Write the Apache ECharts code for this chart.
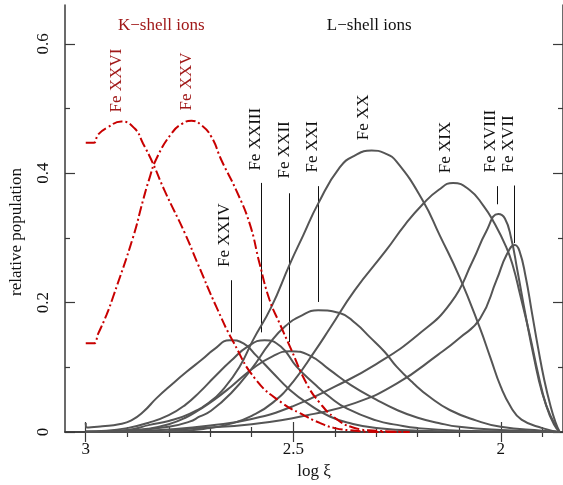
<!DOCTYPE html>
<html><head><meta charset="utf-8">
<script src="https://cdn.jsdelivr.net/npm/echarts@6/dist/echarts.min.js"></script>
<style>html,body{margin:0;padding:0;background:#fff}#c{width:563px;height:485px}</style>
</head><body><div id="c"></div>
<script>
// ---- data (log xi, relative population) ----
const feXXVI = [[3.0,0.447],[2.981,0.447],[2.97,0.46],[2.947,0.471],[2.914,0.480],[2.882,0.469],[2.862,0.446],[2.838,0.415],[2.81,0.373],[2.761,0.307],[2.73,0.26],[2.685,0.193],[2.645,0.14],[2.589,0.080],[2.525,0.044],[2.484,0.029],[2.436,0.014],[2.40,0.006],[2.35,0.002],[2.3,0.0],[2.22,0.0]];
const feXXV = [[3.0,0.137],[2.981,0.137],[2.97,0.152],[2.95,0.181],[2.934,0.209],[2.886,0.301],[2.862,0.358],[2.848,0.389],[2.83,0.422],[2.794,0.461],[2.769,0.476],[2.745,0.481],[2.721,0.474],[2.697,0.456],[2.673,0.420],[2.637,0.373],[2.605,0.322],[2.581,0.260],[2.557,0.204],[2.533,0.168],[2.508,0.132],[2.468,0.075],[2.436,0.045],[2.40,0.022],[2.356,0.007],[2.3,0.002],[2.22,0.0]];
const feXXIV = [[3.0,0.014],[2.997,0.007],[2.96,0.009],[2.92,0.012],[2.89,0.018],[2.86,0.032],[2.83,0.052],[2.79,0.075],[2.757,0.093],[2.72,0.112],[2.69,0.128],[2.653,0.142],[2.62,0.137],[2.589,0.118],[2.55,0.092],[2.508,0.065],[2.46,0.042],[2.412,0.024],[2.36,0.013],[2.3,0.006],[2.2,0.002],[2.0,0.0005],[1.858,0]];
const feXXIII = [[3.0,0.001],[2.95,0.002],[2.9,0.006],[2.85,0.014],[2.8,0.026],[2.76,0.042],[2.725,0.062],[2.69,0.085],[2.65,0.11],[2.61,0.132],[2.569,0.142],[2.53,0.132],[2.492,0.101],[2.45,0.075],[2.412,0.054],[2.37,0.036],[2.3,0.018],[2.25,0.011],[2.2,0.006],[2.1,0.002],[2.0,0.001],[1.858,0]];
const feXXII = [[3.0,0],[2.9,0.002],[2.85,0.005],[2.8,0.012],[2.76,0.022],[2.725,0.035],[2.69,0.05],[2.65,0.07],[2.6,0.097],[2.55,0.117],[2.508,0.125],[2.46,0.118],[2.412,0.096],[2.36,0.072],[2.3,0.05],[2.25,0.034],[2.2,0.022],[2.15,0.014],[2.1,0.008],[2.0,0.003],[1.9,0.001],[1.858,0]];
const feXXI = [[3.0,0],[2.9,0.002],[2.8,0.008],[2.75,0.016],[2.725,0.024],[2.7,0.032],[2.65,0.06],[2.6,0.098],[2.557,0.137],[2.52,0.163],[2.48,0.18],[2.44,0.188],[2.388,0.184],[2.35,0.168],[2.316,0.147],[2.28,0.124],[2.251,0.101],[2.21,0.075],[2.171,0.054],[2.123,0.034],[2.06,0.018],[2.0,0.008],[1.9,0.002],[1.858,0]];
const feXX = [[3.0,0],[2.9,0.003],[2.846,0.011],[2.8,0.017],[2.75,0.028],[2.7,0.047],[2.67,0.065],[2.63,0.1],[2.597,0.142],[2.553,0.193],[2.508,0.26],[2.476,0.304],[2.44,0.353],[2.388,0.409],[2.35,0.428],[2.311,0.435],[2.28,0.431],[2.251,0.418],[2.188,0.358],[2.147,0.304],[2.099,0.239],[2.051,0.162],[2.025,0.115],[2.0,0.07],[1.975,0.038],[1.95,0.019],[1.9,0.006],[1.858,0]];
const feXIX = [[3.0,0],[2.8,0.001],[2.7,0.006],[2.65,0.013],[2.6,0.025],[2.55,0.045],[2.5,0.078],[2.448,0.125],[2.412,0.16],[2.352,0.219],[2.276,0.281],[2.23,0.321],[2.188,0.352],[2.15,0.374],[2.115,0.385],[2.075,0.374],[2.042,0.35],[2.019,0.327],[1.987,0.286],[1.97,0.255],[1.954,0.214],[1.93,0.15],[1.91,0.09],[1.89,0.04],[1.872,0.012],[1.858,0]];
const feXVIII = [[2.9,0.001],[2.8,0.004],[2.7,0.01],[2.6,0.02],[2.5,0.04],[2.4,0.07],[2.3,0.105],[2.2,0.15],[2.12,0.2],[2.067,0.265],[2.035,0.31],[2.006,0.337],[1.99,0.33],[1.975,0.3],[1.96,0.25],[1.94,0.18],[1.92,0.115],[1.9,0.06],[1.88,0.025],[1.858,0]];
const feXVII = [[2.8,0.001],[2.75,0.005],[2.6,0.012],[2.45,0.028],[2.35,0.045],[2.25,0.075],[2.15,0.12],[2.1,0.145],[2.05,0.175],[2.01,0.235],[1.985,0.275],[1.966,0.289],[1.955,0.28],[1.94,0.24],[1.925,0.185],[1.91,0.13],[1.895,0.08],[1.88,0.04],[1.868,0.015],[1.858,0]];

const xMajorTicks = [3, 2.5, 2];
const xMinorTicks = [2.9, 2.8, 2.7, 2.6, 2.4, 2.3, 2.2, 2.1, 1.9];
const yMajorTicks = [0, 0.2, 0.4, 0.6];
const yMinorTicks = [0.1, 0.3, 0.5];

const ionNames = ['Fe XXVI','Fe XXV','Fe XXIV','Fe XXIII','Fe XXII','Fe XXI','Fe XX','Fe XIX','Fe XVIII','Fe XVII'];
const kShellTitle = 'K\u2212shell ions';
const lShellTitle = 'L\u2212shell ions';

// ---- annotation layout (data coordinates) ----
const labelAt = [
  {L:2.9265, v:0.494}, {L:2.7578, v:0.497}, {L:2.665, v:0.255}, {L:2.590, v:0.404},
  {L:2.520, v:0.392}, {L:2.454, v:0.401}, {L:2.330, v:0.451}, {L:2.133, v:0.400},
  {L:2.024, v:0.401}, {L:1.982, v:0.401}
];
const leaders = [
  null, null, {L:2.651, v1:0.2346, v2:0.154}, {L:2.577, v1:0.385, v2:0.154},
  {L:2.510, v1:0.369, v2:0.139}, {L:2.440, v1:0.380, v2:0.201}, null, null,
  {L:2.009, v1:0.380, v2:0.352}, {L:1.968, v1:0.381, v2:0.292}
];

const FONT = '"Liberation Serif", "DejaVu Serif", serif';
const GRAY = '#555555';
const RED = '#c80000';
const DARKRED = '#a01818';
const AXC = '#3a3a3a';

const chart = echarts.init(document.getElementById('c'), null, {renderer:'canvas'});

function xAx(pos, vals, len, showLine, showLabel) {
  return {
    type:'value', min:1.85, max:3.05, inverse:true, position:pos,
    axisLine:{show:showLine, lineStyle:{color:AXC, width:1.5}},
    axisTick:{show:true, inside:true, length:len, customValues:vals, lineStyle:{color:AXC, width:1.2}},
    axisLabel:{show:showLabel, customValues:vals, margin:9, fontSize:17, fontFamily:FONT, color:'#111'},
    splitLine:{show:false}
  };
}
function yAx(pos, vals, len, showLine, showLabel) {
  return {
    type:'value', min:0, max:0.66, position:pos,
    axisLine:{show:showLine, lineStyle:{color:AXC, width:1.5}},
    axisTick:{show:true, inside:true, length:len, customValues:vals, lineStyle:{color:AXC, width:1.2}},
    axisLabel:{show:showLabel, customValues:vals, rotate:90, margin:13, fontSize:17, fontFamily:FONT, color:'#111'},
    splitLine:{show:false}
  };
}

const xAxes = [xAx('bottom', xMajorTicks, 10, true, true), xAx('bottom', xMinorTicks, 5, false, false),
               xAx('top', xMajorTicks, 10, true, false), xAx('top', xMinorTicks, 5, false, false)];
xAxes[0].name = 'log \u03be';
xAxes[0].nameLocation = 'middle';
xAxes[0].nameGap = 30;
xAxes[0].nameTextStyle = {fontSize:17, fontFamily:FONT, color:'#111'};
const yAxes = [yAx('left', yMajorTicks, 10, true, true), yAx('left', yMinorTicks, 5, false, false),
               yAx('right', yMajorTicks, 10, true, false), yAx('right', yMinorTicks, 5, false, false)];

function line(name, data, color, dashed) {
  return {
    name, type:'line', data, xAxisIndex:0, yAxisIndex:0, showSymbol:false, symbol:'none',
    smooth:0.5, silent:true, animation:false,
    lineStyle:{color, width:2, type: dashed ? [10,3,2,3] : 'solid'}
  };
}

chart.setOption({
  animation:false,
  grid:{left:65, right:0, top:5, bottom:53, containLabel:false},
  xAxis:xAxes, yAxis:yAxes,
  series:[
    line('Fe XVII', feXVII, GRAY), line('Fe XVIII', feXVIII, GRAY), line('Fe XIX', feXIX, GRAY),
    line('Fe XX', feXX, GRAY), line('Fe XXI', feXXI, GRAY), line('Fe XXII', feXXII, GRAY),
    line('Fe XXIII', feXXIII, GRAY), line('Fe XXIV', feXXIV, GRAY),
    line('Fe XXV', feXXV, RED, true), line('Fe XXVI', feXXVI, RED, true)
  ]
});

const P = (L, v) => chart.convertToPixel({xAxisIndex:0, yAxisIndex:0}, [L, v]);
const g = [];
ionNames.forEach((name, i) => {
  const p = P(labelAt[i].L, labelAt[i].v);
  g.push({type:'text', x:p[0], y:p[1], rotation:Math.PI/2, silent:true,
    style:{text:name, fontSize:17, fontFamily:FONT, fill: i < 2 ? DARKRED : '#111',
           align:'left', verticalAlign:'middle'}});
  const ld = leaders[i];
  if (ld) {
    const a = P(ld.L, ld.v1), b = P(ld.L, ld.v2);
    g.push({type:'line', silent:true, shape:{x1:Math.round(a[0])+0.5, y1:a[1], x2:Math.round(a[0])+0.5, y2:b[1]},
            style:{stroke:'#111', lineWidth:1}});
  }
});
const kp = P(2.818, 0.628), lp = P(2.317, 0.628);
g.push({type:'text', x:kp[0], y:kp[1], silent:true, style:{text:kShellTitle, fontSize:17, fontFamily:FONT, fill:DARKRED, align:'center', verticalAlign:'middle'}});
g.push({type:'text', x:lp[0], y:lp[1], silent:true, style:{text:lShellTitle, fontSize:17, fontFamily:FONT, fill:'#111', align:'center', verticalAlign:'middle'}});
g.push({type:'text', x:17, y:232, rotation:Math.PI/2, silent:true, style:{text:'relative population', fontSize:17, fontFamily:FONT, fill:'#111', align:'center', verticalAlign:'middle'}});
chart.setOption({graphic:g});
</script>
</body></html>
